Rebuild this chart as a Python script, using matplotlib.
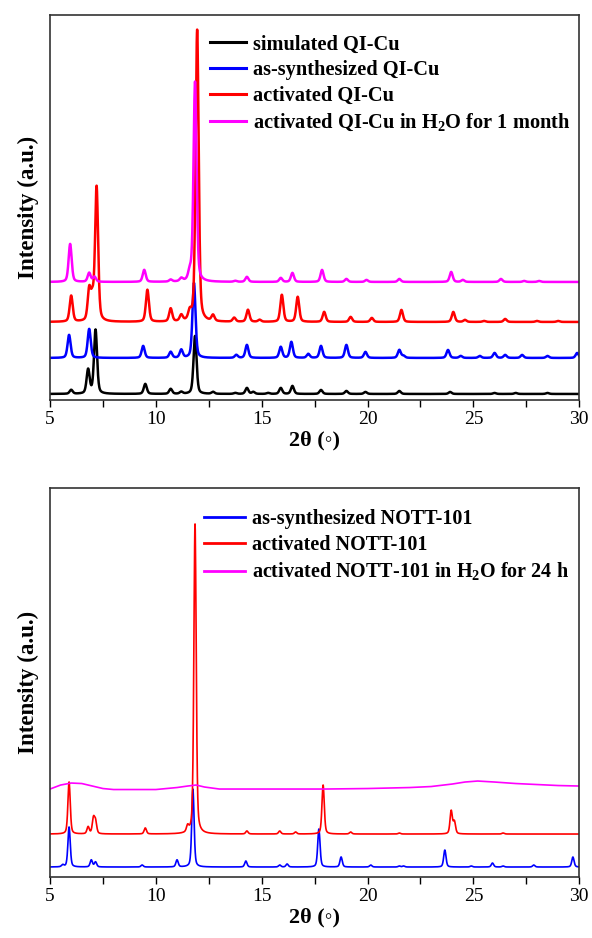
import numpy as np
import matplotlib
matplotlib.use("Agg")
import matplotlib.pyplot as plt
from matplotlib.ticker import MultipleLocator

plt.rcParams['font.family'] = ['Liberation Serif', 'DejaVu Serif']
plt.rcParams['mathtext.fontset'] = 'custom'
plt.rcParams['mathtext.rm'] = 'Liberation Serif'
plt.rcParams['mathtext.bf'] = 'Liberation Serif:bold'

# ---------------- Data (peak tables) ----------------
# Top panel: QI-Cu
sim_base = 6
sim_pos = [6.0, 6.8, 7.15, 9.5, 10.7, 11.2, 11.85, 12.7, 13.75, 14.3, 14.6, 15.3, 15.9, 16.45, 17.8, 19.0, 19.9, 21.5, 23.9, 26.0, 27.0, 28.5]
sim_hgt = [4, 24, 64, 10, 5, 2, 58, 2, 1, 6, 2, 1, 6, 8, 4, 3, 2, 3, 2, 1, 1, 1]

asy_base = 42
asy_pos = [5.9, 6.85, 9.4, 10.7, 11.2, 11.8, 13.8, 14.3, 15.9, 16.4, 17.2, 17.8, 19.0, 19.9, 21.5, 21.7, 23.8, 24.4, 25.3, 26.0, 26.5, 27.3, 28.5, 29.9]
asy_hgt = [23, 29, 12, 6, 8, 75, 3, 13, 11, 16, 4, 12, 13, 6, 8, 2, 8, 2, 2, 5, 3, 3, 2, 5]

act_base = 78
act_pos = [6.0, 6.85, 7.0, 7.2, 9.6, 10.7, 11.2, 11.6, 11.95, 12.7, 13.7, 14.35, 14.9, 15.95, 16.7, 17.95, 19.2, 20.2, 21.6, 24.05, 24.6, 25.5, 26.5, 28.0, 29.0]
act_hgt = [26, 30, 20, 134, 32, 13, 6, 8, 292, 6, 4, 12, 2, 27, 25, 10, 5, 4, 12, 10, 2, 1, 3, 1, 1]

wat_base = 118
wat_pos = [5.95, 6.85, 7.1, 9.45, 10.7, 11.2, 11.6, 11.85, 13.75, 14.3, 15.9, 16.45, 17.85, 19.0, 19.95, 21.5, 23.95, 24.5, 26.3, 27.4, 28.1]
wat_hgt = [38, 9, 5, 12, 2, 3, 8, 200, 1, 5, 4, 9, 12, 3, 2, 3, 10, 2, 3, 1, 1]

top_labels = ['simulated QI-Cu', 'as-synthesized QI-Cu', 'activated QI-Cu',
              r'activated QI-Cu in H$_\mathbf{2}$O for 1 month']
top_colors = ['black', 'blue', 'red', 'magenta']

# Bottom panel: NOTT-101
n_asy_base = 10
n_asy_pos = [5.6, 5.9, 6.95, 7.15, 9.35, 11.0, 11.75, 14.25, 15.85, 16.2, 17.7, 18.75, 20.15, 21.5, 21.7, 23.65, 24.9, 25.9, 26.4, 27.85, 29.7]
n_asy_hgt = [2, 40, 7, 5, 2, 7, 78, 6, 2, 3, 38, 10, 2, 1, 1, 17, 1, 4, 1, 2, 10]

n_act_base = 43
n_act_pos = [5.9, 6.8, 7.05, 7.15, 9.5, 11.5, 11.85, 14.3, 15.85, 16.6, 17.9, 19.2, 21.5, 23.95, 24.1, 26.4]
n_act_hgt = [52, 7, 15, 12, 6, 6, 310, 3, 3, 2, 49, 2, 1, 23, 12, 1]

n_wat_x = [5.0, 5.5, 6.0, 6.5, 7.0, 7.5, 8.0, 9.0, 10.0, 11.0, 11.5, 11.9, 12.3, 13.0, 14.0, 16.0, 18.0, 20.0, 21.0, 22.0, 23.0, 24.0, 24.6, 25.2, 26.0, 27.0, 28.0, 29.0, 30.0]
n_wat_y = [88, 92, 94, 93.5, 91, 88.5, 87.5, 87.5, 87.5, 89.5, 91, 92, 90, 88, 88, 88, 88, 88.5, 89, 89.5, 90.5, 93, 95, 96, 95, 93.5, 92.5, 91.5, 91]

bot_labels = ['as-synthesized NOTT-101', 'activated NOTT-101',
              r'activated NOTT-101 in H$_\mathbf{2}$O for 24 h']
bot_colors = ['blue', 'red', 'magenta']

xticks = [5, 10, 15, 20, 25, 30]

# ---------------- helpers ----------------
x = np.linspace(5, 30, 2501)

def pattern(base, pos, hgt, w=0.07):
    y = np.full_like(x, float(base))
    for p, h in zip(pos, hgt):
        d = (x - p) / w
        y += h * (0.6 * np.exp(-0.693 * d**2) + 0.4 / (1 + d**2))
    return y

fig = plt.figure(figsize=(5.92, 9.38), dpi=100)

def style(ax, ylim):
    ax.set_xlim(5, 30)
    ax.set_ylim(*ylim)
    ax.set_xticks(xticks)
    ax.xaxis.set_minor_locator(MultipleLocator(2.5))
    ax.set_yticks([])
    ax.tick_params(axis='x', which='both', direction='out', length=5, width=1, labelsize=14, pad=3)
    ax.tick_params(axis='x', which='minor', length=5)
    for s in ax.spines.values():
        s.set_linewidth(1.2)
        s.set_color('#333333')
    ax.set_xlabel('2θ (\u25e6)', fontsize=16, fontweight='bold', labelpad=2)
    ax.set_ylabel('Intensity (a.u.)', fontsize=16.5, fontweight='bold', labelpad=8)

# Top panel
ax1 = fig.add_axes([0.0845, 0.5736, 0.894, 0.4105])
series_top = [(sim_base, sim_pos, sim_hgt), (asy_base, asy_pos, asy_hgt),
              (act_base, act_pos, act_hgt), (wat_base, wat_pos, wat_hgt)]
for (b, p, h), c, lab in zip(series_top, top_colors, top_labels):
    ax1.plot(x, pattern(b, p, h, w=0.085), color=c, lw=1.8, label=lab)
style(ax1, (0, 385))
leg1 = ax1.legend(loc='upper left', bbox_to_anchor=(0.287, 0.97), frameon=False,
                  prop={'weight': 'bold', 'size': 14.7}, handlelength=1.75,
                  handletextpad=0.35, labelspacing=0.28, borderaxespad=0)
for l in leg1.get_lines():
    l.set_linewidth(2.2)

# Bottom panel
ax2 = fig.add_axes([0.0845, 0.065, 0.894, 0.4147])
ax2.plot(x, pattern(n_asy_base, n_asy_pos, n_asy_hgt, w=0.065), color='blue', lw=1.2, label=bot_labels[0])
ax2.plot(x, pattern(n_act_base, n_act_pos, n_act_hgt, w=0.065), color='red', lw=1.2, label=bot_labels[1])
ax2.plot(n_wat_x, n_wat_y, color='magenta', lw=1.2, label=bot_labels[2])
style(ax2, (0, 389))
leg2 = ax2.legend(loc='upper left', bbox_to_anchor=(0.276, 0.967), frameon=False,
                  prop={'weight': 'bold', 'size': 14.5}, handlelength=2.05,
                  handletextpad=0.35, labelspacing=0.3, borderaxespad=0)
for l in leg2.get_lines():
    l.set_linewidth(2.0)

fig.savefig('out.png', dpi=100)
